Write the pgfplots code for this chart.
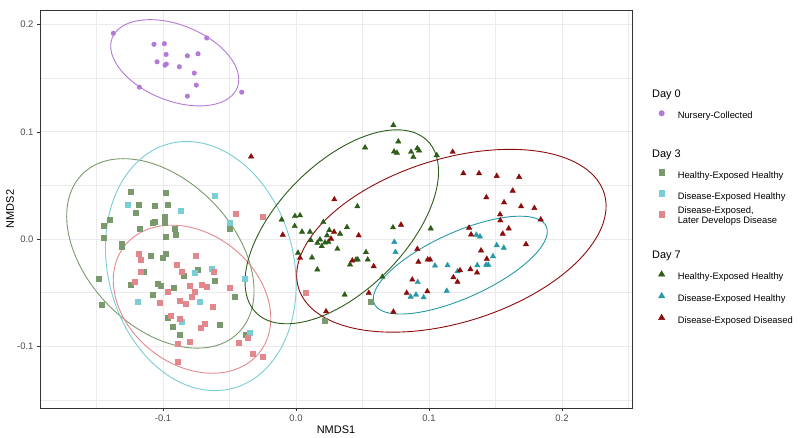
\documentclass[border=0pt]{standalone}
\usepackage{pgfplots}
\pgfplotsset{compat=1.18}
\usepackage{fontspec}
\setmainfont{Liberation Sans}
\definecolor{cPur}{RGB}{180,120,215}
\definecolor{cGa}{RGB}{122,153,108}
\definecolor{cCa}{RGB}{120,205,215}
\definecolor{cPa}{RGB}{226,136,141}
\definecolor{cGb}{RGB}{45,92,24}
\definecolor{cTb}{RGB}{38,152,168}
\definecolor{cRb}{RGB}{140,12,12}
\definecolor{gridc}{RGB}{235,235,235}
\definecolor{tickc}{RGB}{77,77,77}
\definecolor{framec}{RGB}{51,51,51}
\pgfplotsset{myleg/.style={only marks, legend image code/.code={\draw[##1] plot coordinates {(0bp,3.3bp)};}}}
\newcommand{\drawell}[7]{%
  \pgfplotsextra{\begin{pgfscope}\pgfsetlinewidth{0.9bp}\pgfsetstrokecolor{#1}%
  \pgfpathellipse{\pgfplotspointaxisxy{#2}{#3}}{\pgfplotspointaxisdirectionxy{#4}{#5}}{\pgfplotspointaxisdirectionxy{#6}{#7}}%
  \pgfusepath{stroke}\end{pgfscope}}}
\newcommand{\ltitle}[1]{\hspace*{-25.6bp}{\fontsize{11}{13}\selectfont #1}}
\begin{document}
\begin{tikzpicture}
\useasboundingbox (0,0) rectangle (800bp,438bp);
\begin{axis}[
  at={(40bp,30bp)}, anchor=south west,
  scale only axis, width=592bp, height=398bp,
  xmin=-0.1925, xmax=0.2526, ymin=-0.1575, ymax=0.2135,
  xtick={-0.1,0,0.1,0.2}, xticklabels={-0.1,0.0,0.1,0.2},
  ytick={-0.1,0,0.1,0.2}, yticklabels={-0.1,0.0,0.1,0.2},
  minor xtick={-0.15,-0.05,0.05,0.15,0.25},
  minor ytick={-0.15,-0.05,0.05,0.15},
  grid=both,
  major grid style={gridc, line width=0.8bp},
  minor grid style={gridc, line width=0.4bp},
  minor tick length=0pt, major tick length=3bp,
  tick align=outside, tick pos=left,
  tick style={framec, line width=0.5bp},
  axis line style={framec, line width=0.6bp},
  tick label style={font=\fontsize{9.5}{10}\selectfont, color=tickc},
  xlabel={NMDS1}, ylabel={NMDS2},
  label style={font=\fontsize{11}{13}\selectfont},
  xlabel style={at={(axis description cs:0.5,-0.0553)}, anchor=center},
  ylabel style={at={(axis description cs:-0.0507,0.5)}, anchor=center},
  legend cell align=left,
  legend style={at={(rel axis cs:1.0448,0.7955)}, anchor=north west, draw=none, fill=none,
    inner sep=0pt, outer sep=0pt, row sep=10.6bp, column sep=13bp,
    nodes={inner sep=0pt, text height=6.6bp, text depth=1.9bp, font=\fontsize{9.4}{10}\selectfont}},
]
% Day 0
\addplot[forget plot, only marks, mark=*, mark size=2.3bp, color=cPur, mark options={fill=cPur, draw=none}] coordinates {
(-0.1374,0.1918)(-0.1068,0.1815)(-0.0990,0.1821)(-0.0671,0.1874)(-0.0977,0.1721)(-0.0817,0.1708)(-0.0737,0.1727)(-0.1045,0.1652)(-0.0985,0.1621)(-0.0975,0.1631)(-0.0877,0.1606)(-0.0765,0.1547)(-0.0750,0.1435)(-0.1178,0.1416)(-0.0817,0.1332)(-0.0408,0.1369)};
% Day 3 healthy-exposed healthy
\addplot[forget plot, only marks, mark=square*, mark size=2.5bp, color=cGa, mark options={fill=cGa, draw=none}] coordinates {
(-0.1243,0.0441)(-0.0983,0.0435)(-0.1186,0.0320)(-0.1066,0.0307)(-0.0965,0.0316)(-0.1203,0.0245)(-0.1404,0.0182)(-0.0990,0.0210)(-0.1446,0.0120)(-0.1075,0.0151)(-0.1060,0.0157)(-0.0990,0.0148)(-0.1178,0.0095)(-0.0912,0.0101)(-0.0905,0.0042)(-0.1449,0.0017)(-0.0983,0.0023)(-0.0502,0.0101)(-0.1311,-0.0045)(-0.1308,-0.0067)(-0.1090,-0.0151)(-0.0978,-0.0138)(-0.1002,-0.0170)(-0.1148,-0.0307)(-0.0742,-0.0288)(-0.0848,-0.0338)(-0.1487,-0.0372)(-0.0609,-0.0388)(-0.1246,-0.0423)(-0.1038,-0.0413)(-0.1017,-0.0438)(-0.0923,-0.0456)(-0.1081,-0.0516)(-0.1459,-0.0612)(-0.0459,-0.0535)(-0.0963,-0.0737)(-0.0925,-0.0821)(-0.0878,-0.0890)(-0.0572,-0.0799)(-0.0378,-0.0890)(0.0216,-0.0765)(0.0559,-0.0584)};
% Day 3 disease-exposed healthy
\addplot[forget plot, only marks, mark=square*, mark size=2.5bp, color=cCa, mark options={fill=cCa, draw=none}] coordinates {
(-0.1266,0.0320)(-0.0867,0.0264)(-0.0609,0.0407)(-0.0496,0.0151)(-0.0637,-0.0273)(-0.0762,-0.0313)(-0.0389,-0.0367)(-0.1190,-0.0587)(-0.0722,-0.0587)(-0.0863,-0.0769)(-0.0346,-0.0871)};
% Day 3 disease-exposed, later disease
\addplot[forget plot, only marks, mark=square*, mark size=2.5bp, color=cPa, mark options={fill=cPa, draw=none}] coordinates {
(-0.0456,0.0236)(-0.0250,0.0208)(-0.1180,-0.0136)(-0.1165,-0.0192)(-0.0752,-0.0154)(-0.0895,-0.0238)(-0.0863,-0.0307)(-0.0617,-0.0307)(-0.1171,-0.0307)(-0.1213,-0.0400)(-0.0797,-0.0432)(-0.0712,-0.0423)(-0.0672,-0.0441)(-0.0502,-0.0451)(-0.0962,-0.0491)(-0.0765,-0.0491)(-0.0782,-0.0540)(-0.0872,-0.0578)(-0.0827,-0.0606)(-0.1025,-0.0597)(-0.0629,-0.0634)(-0.0942,-0.0718)(-0.0877,-0.0743)(-0.0686,-0.0793)(-0.0720,-0.0827)(-0.0363,-0.0921)(-0.0429,-0.0967)(-0.0889,-0.0977)(-0.0797,-0.0958)(-0.0326,-0.1070)(-0.0253,-0.1095)(-0.0887,-0.1142)(0.0073,-0.0503)};
% Day 7 healthy-exposed healthy
\addplot[forget plot, only marks, mark=triangle*, mark size=3.1bp, color=cGb, mark options={fill=cGb, draw=none}] coordinates {
(0.0732,0.1061)(0.0769,0.0909)(0.0519,0.0853)(0.0737,0.0815)(0.0759,0.0802)(0.0865,0.0812)(0.0912,0.0846)(0.0925,0.0825)(0.0882,0.0765)(0.1058,0.0781)(0.0461,0.0304)(-0.0108,0.0180)(-0.0008,0.0213)(0.0030,0.0220)(-0.0010,0.0120)(0.0205,0.0157)(0.0045,0.0067)(0.0105,0.0067)(0.0250,0.0082)(0.0383,0.0110)(0.0331,0.0049)(0.0233,0.0033)(0.0180,-0.0005)(0.0160,-0.0036)(0.0218,-0.0033)(0.0243,-0.0026)(0.0111,-0.0011)(0.0193,-0.0067)(0.0311,-0.0092)(0.0526,-0.0123)(0.0729,0.0108)(0.1013,0.0098)(0.0015,-0.0129)(0.0120,-0.0173)(0.0160,-0.0285)(0.0406,-0.0238)(0.0451,-0.0192)(0.0464,-0.0192)(0.0539,-0.0192)(0.0366,-0.0519)(0.0649,-0.0353)};
% Day 7 disease-exposed healthy
\addplot[forget plot, only marks, mark=triangle*, mark size=3.1bp, color=cTb, mark options={fill=cTb, draw=none}] coordinates {
(0.0739,-0.0028)(0.0748,-0.0122)(0.1045,-0.0248)(0.1139,-0.0245)(0.1214,-0.0301)(0.0915,-0.0402)(0.0902,-0.0519)(0.0862,-0.0538)(0.0959,-0.0544)(0.1133,-0.0483)(0.1356,0.0039)(0.1383,0.0023)(0.1509,-0.0058)(0.1562,-0.0082)(0.1481,-0.0161)(0.1429,-0.0241)(0.1446,-0.0241)(0.1363,-0.0245)};
% Day 7 disease-exposed diseased
\addplot[forget plot, only marks, mark=triangle*, mark size=3.1bp, color=cRb, mark options={fill=cRb, draw=none}] coordinates {
(-0.0338,0.0769)(0.0288,0.0369)(-0.0100,0.0039)(0.0286,0.0067)(0.0471,0.0033)(0.0789,0.0133)(0.1178,0.0812)(0.0263,0.0002)(0.0912,-0.0093)(0.0030,-0.0176)(0.0423,-0.0201)(0.0584,-0.0254)(0.0547,-0.0503)(0.0226,-0.0675)(0.0732,-0.0678)(0.0920,-0.0213)(0.0990,-0.0192)(0.1008,-0.0192)(0.0874,-0.0379)(0.0832,-0.0503)(0.0987,-0.0488)(0.1183,-0.0357)(0.1214,-0.0399)(0.1258,0.0612)(0.1376,0.0612)(0.1509,0.0587)(0.1677,0.0578)(0.1629,0.0450)(0.1431,0.0388)(0.1564,0.0341)(0.1692,0.0304)(0.1792,0.0288)(0.1534,0.0229)(0.1536,0.0173)(0.1840,0.0182)(0.1599,0.0098)(0.1301,0.0105)(0.1316,0.0042)(0.1554,0.0049)(0.1729,-0.0049)(0.1391,-0.0107)(0.1434,-0.0185)(0.1311,-0.0282)(0.1361,-0.0313)(0.1233,-0.0292)};
% ellipses
\drawell{cPur}{-0.0912}{0.1643}{0.0444}{0}{-0.0186}{0.0402}
\drawell{cGa}{-0.1020}{-0.0134}{0.0647}{0}{-0.0278}{0.0883}
\drawell{cCa}{-0.0716}{-0.0252}{0.0709}{0}{-0.0106}{0.1161}
\drawell{cPa}{-0.0782}{-0.0561}{0.0572}{0}{-0.0153}{0.0690}
\drawell{cGb}{0.0344}{0.0114}{0.0598}{0}{0.0414}{0.0904}
\drawell{cRb}{0.1168}{-0.0016}{0.1076}{0}{0.0441}{0.0852}
\drawell{cTb}{0.1235}{-0.0243}{0.0476}{0}{0.0449}{0.0456}
% legend
\addlegendimage{empty legend}\addlegendentry{\ltitle{Day 0}}
\addlegendimage{myleg, mark=*, mark size=2.8bp, color=cPur, mark options={fill=cPur, draw=none}}\addlegendentry{Nursery-Collected}
\addlegendimage{empty legend}\addlegendentry{}
\addlegendimage{empty legend}\addlegendentry{\ltitle{Day 3}}
\addlegendimage{myleg, mark=square*, mark size=2.8bp, color=cGa, mark options={fill=cGa, draw=none}}\addlegendentry{Healthy-Exposed Healthy}
\addlegendimage{myleg, mark=square*, mark size=2.8bp, color=cCa, mark options={fill=cCa, draw=none}}\addlegendentry{Disease-Exposed Healthy}
\addlegendimage{myleg, mark=square*, mark size=2.8bp, color=cPa, mark options={fill=cPa, draw=none}}\addlegendentry{\smash{\raisebox{1bp}{\begin{tabular}[c]{@{}l@{}}Disease-Exposed,\\Later Develops Disease\end{tabular}}}}
\addlegendimage{empty legend}\addlegendentry{}
\addlegendimage{empty legend}\addlegendentry{\ltitle{Day 7}}
\addlegendimage{myleg, mark=triangle*, mark size=3.6bp, color=cGb, mark options={fill=cGb, draw=none}}\addlegendentry{Healthy-Exposed Healthy}
\addlegendimage{myleg, mark=triangle*, mark size=3.6bp, color=cTb, mark options={fill=cTb, draw=none}}\addlegendentry{Disease-Exposed Healthy}
\addlegendimage{myleg, mark=triangle*, mark size=3.6bp, color=cRb, mark options={fill=cRb, draw=none}}\addlegendentry{Disease-Exposed Diseased}
\end{axis}
\end{tikzpicture}
\end{document}
